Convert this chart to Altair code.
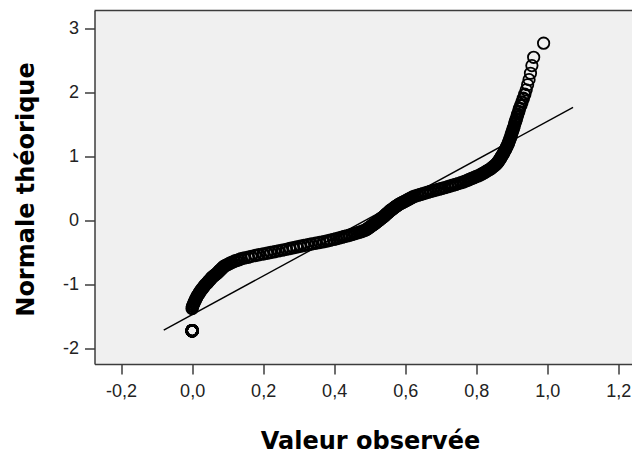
import altair as alt
import pandas as pd

# ---- data read from the picture (observed value, theoretical normal quantile) ----
# tied observations at 0 (drawn as one bold ring)
tied_obs = [0.0, 0.0, 0.0, 0.0, 0.0, 0.0, 0.0, 0.0, 0.0, 0.0, 0.0, 0.0, 0.0, 0.0, 0.0, 0.0, 0.0, 0.0]
tied_theo = [-1.73, -1.73, -1.73, -1.73, -1.73, -1.73, -1.73, -1.73, -1.73, -1.73, -1.73, -1.73,
             -1.73, -1.73, -1.73, -1.73, -1.73, -1.73]

obs_a = [0.000, 0.001, 0.003, 0.005, 0.007, 0.009, 0.011, 0.013, 0.015, 0.018, 0.020, 0.022,
         0.025, 0.027, 0.030, 0.032, 0.035, 0.037]
theo_a = [-1.380, -1.350, -1.322, -1.296, -1.271, -1.247, -1.224, -1.202, -1.181, -1.160, -1.140,
          -1.120, -1.101, -1.082, -1.063, -1.045, -1.027, -1.009]

obs_b = [0.041, 0.044, 0.046, 0.049, 0.052, 0.054, 0.057, 0.061, 0.064, 0.068, 0.071, 0.074,
         0.076, 0.079, 0.082, 0.084, 0.087, 0.089, 0.094, 0.099, 0.104, 0.108, 0.113, 0.119,
         0.125, 0.132, 0.138, 0.147, 0.158, 0.167, 0.178, 0.188, 0.200, 0.211, 0.221]
theo_b = [-0.991, -0.973, -0.956, -0.939, -0.922, -0.905, -0.889, -0.873, -0.857, -0.841, -0.826,
          -0.811, -0.796, -0.781, -0.766, -0.752, -0.738, -0.724, -0.710, -0.696, -0.682, -0.669,
          -0.656, -0.643, -0.630, -0.617, -0.604, -0.591, -0.578, -0.566, -0.553, -0.541, -0.528,
          -0.516, -0.504]

obs_c = [0.232, 0.243, 0.254, 0.265, 0.275, 0.285, 0.295, 0.305, 0.315, 0.326, 0.336, 0.348,
         0.359, 0.370, 0.380, 0.389, 0.398, 0.406, 0.414, 0.422, 0.429, 0.436, 0.443, 0.450,
         0.457, 0.464, 0.470, 0.476, 0.481, 0.487, 0.491, 0.494, 0.496, 0.499, 0.502, 0.505,
         0.507, 0.510, 0.513, 0.516, 0.518, 0.521, 0.523, 0.526]
theo_c = [-0.492, -0.480, -0.468, -0.456, -0.444, -0.432, -0.420, -0.408, -0.396, -0.384, -0.372,
          -0.360, -0.348, -0.336, -0.324, -0.312, -0.300, -0.289, -0.278, -0.267, -0.256, -0.245,
          -0.234, -0.223, -0.212, -0.201, -0.190, -0.179, -0.168, -0.157, -0.146, -0.135, -0.124,
          -0.113, -0.102, -0.091, -0.080, -0.069, -0.058, -0.047, -0.036, -0.025, -0.014, -0.003]

obs_d = [0.528, 0.531, 0.533, 0.536, 0.538, 0.541, 0.543, 0.545, 0.547, 0.549, 0.552, 0.554,
         0.556, 0.558, 0.561, 0.564, 0.566, 0.569, 0.572, 0.574, 0.577, 0.580, 0.583, 0.587,
         0.591, 0.594, 0.598, 0.602, 0.606, 0.610, 0.614, 0.619, 0.623, 0.629, 0.636, 0.643,
         0.650, 0.657, 0.664, 0.671, 0.679, 0.687, 0.695, 0.703]
theo_d = [0.008, 0.019, 0.030, 0.041, 0.052, 0.063, 0.074, 0.085, 0.096, 0.107, 0.118, 0.129,
          0.140, 0.151, 0.162, 0.173, 0.184, 0.195, 0.206, 0.217, 0.228, 0.239, 0.250, 0.261,
          0.272, 0.283, 0.294, 0.306, 0.318, 0.330, 0.342, 0.354, 0.366, 0.378, 0.390, 0.402,
          0.414, 0.426, 0.438, 0.450, 0.462, 0.474, 0.486, 0.498]

obs_e = [0.711, 0.720, 0.727, 0.734, 0.742, 0.749, 0.757, 0.764, 0.770, 0.776, 0.781, 0.787,
         0.793, 0.799, 0.805, 0.811, 0.816, 0.820, 0.825, 0.829, 0.834, 0.839, 0.842, 0.845,
         0.849, 0.852, 0.856, 0.859, 0.861, 0.863, 0.865, 0.867, 0.869, 0.871]
theo_e = [0.510, 0.523, 0.535, 0.548, 0.560, 0.573, 0.586, 0.599, 0.612, 0.625, 0.638, 0.652,
          0.666, 0.680, 0.694, 0.708, 0.722, 0.736, 0.751, 0.766, 0.781, 0.796, 0.811, 0.826,
          0.842, 0.858, 0.874, 0.890, 0.906, 0.923, 0.940, 0.957, 0.974, 0.992]

obs_f = [0.873, 0.875, 0.877, 0.879, 0.881, 0.883, 0.885, 0.887, 0.889, 0.891, 0.892, 0.894,
         0.896, 0.898, 0.899, 0.901, 0.903, 0.905, 0.907, 0.909]
theo_f = [1.011, 1.030, 1.050, 1.070, 1.091, 1.112, 1.134, 1.157, 1.180, 1.204, 1.229, 1.255,
          1.282, 1.310, 1.340, 1.371, 1.404, 1.439, 1.476, 1.516]

obs_g = [0.911, 0.913, 0.915, 0.917, 0.920, 0.922, 0.926, 0.929, 0.933, 0.937, 0.941, 0.945,
         0.949, 0.953, 0.957, 0.962, 0.990]
theo_g = [1.55, 1.58, 1.62, 1.66, 1.70, 1.75, 1.80, 1.85, 1.91, 1.97, 2.04, 2.12, 2.20, 2.30,
          2.42, 2.55, 2.77]

# reference (normal) line end points
line_obs = [-0.080, 1.073]
line_theo = [-1.720, 1.767]

x_ticks = [-0.2, 0.0, 0.2, 0.4, 0.6, 0.8, 1.0, 1.2]
y_ticks = [-2, -1, 0, 1, 2, 3]
x_title = "Valeur observée"
y_title = "Normale théorique"

# ---- build tables ----
obs = tied_obs + obs_a + obs_b + obs_c + obs_d + obs_e + obs_f + obs_g
theo = tied_theo + theo_a + theo_b + theo_c + theo_d + theo_e + theo_f + theo_g
pts_df = pd.DataFrame({"obs": obs, "theo": theo})
line_df = pd.DataFrame({"obs": line_obs, "theo": line_theo})

W = 537.5
H = 353.5
xscale = alt.Scale(domain=[-0.275, 1.239], nice=False, zero=False)
yscale = alt.Scale(domain=[-2.25, 3.282], nice=False, zero=False)

x_axis = alt.Axis(
    values=x_ticks,
    labelExpr="(datum.value < 0 ? '-' : '') + replace(format(abs(datum.value), '.1f'), '.', ',')",
    title=x_title, titleX=275.5, titleY=84, titleAlign="center", titleBaseline="alphabetic",
    labelPadding=8,
)
y_axis = alt.Axis(
    values=y_ticks,
    labelExpr="(datum.value < 0 ? '-' : '') + format(abs(datum.value), 'd')",
    title=y_title, titleX=-61.5, titleY=178.5, titleAngle=270, titleAlign="center",
    titleBaseline="alphabetic", labelPadding=6,
)

X = alt.X("obs:Q", scale=xscale, axis=x_axis)
Y = alt.Y("theo:Q", scale=yscale, axis=y_axis)

ref_line = alt.Chart(line_df).mark_line(color="black", strokeWidth=1.4).encode(x=X, y=Y)

# dense band of overlapping rings
band = alt.Chart(pts_df).transform_filter("datum.theo < 2.0").mark_point(
    shape="circle", filled=False, size=120, strokeWidth=2.5, color="black", opacity=1
).encode(x=X, y=Y)

# sparse rings at the top end
sparse = alt.Chart(pts_df).transform_filter("datum.theo >= 2.0").mark_point(
    shape="circle", filled=False, size=130, strokeWidth=1.8, color="black", opacity=1
).encode(x=X, y=Y)

top_border = alt.Chart(pd.DataFrame({"k": [0]})).mark_rule(
    color="#3c3c3c", strokeWidth=1.5
).encode(x=alt.value(0), x2=alt.value(W), y=alt.value(0))

chart = alt.layer(ref_line, band, sparse, top_border).properties(
    width=W,
    height=H,
    autosize=alt.AutoSizeParams(type="none"),
    padding={"left": 86.5, "top": 2.5, "right": 0, "bottom": 90},
    background="white",
).configure_view(
    fill="#f0f0f0", stroke="transparent"
).configure_axis(
    grid=False,
    domainColor="#3c3c3c", domainWidth=1.5,
    tickColor="#3c3c3c", tickWidth=1.5, tickSize=10,
    labelFont="Liberation Sans", labelFontSize=18, labelColor="#222222",
    titleFont="DejaVu Sans", titleFontWeight="bold", titleFontSize=24, titleColor="#000000",
)

chart.save("out.html", embed_options={"renderer": "svg", "actions": False})
